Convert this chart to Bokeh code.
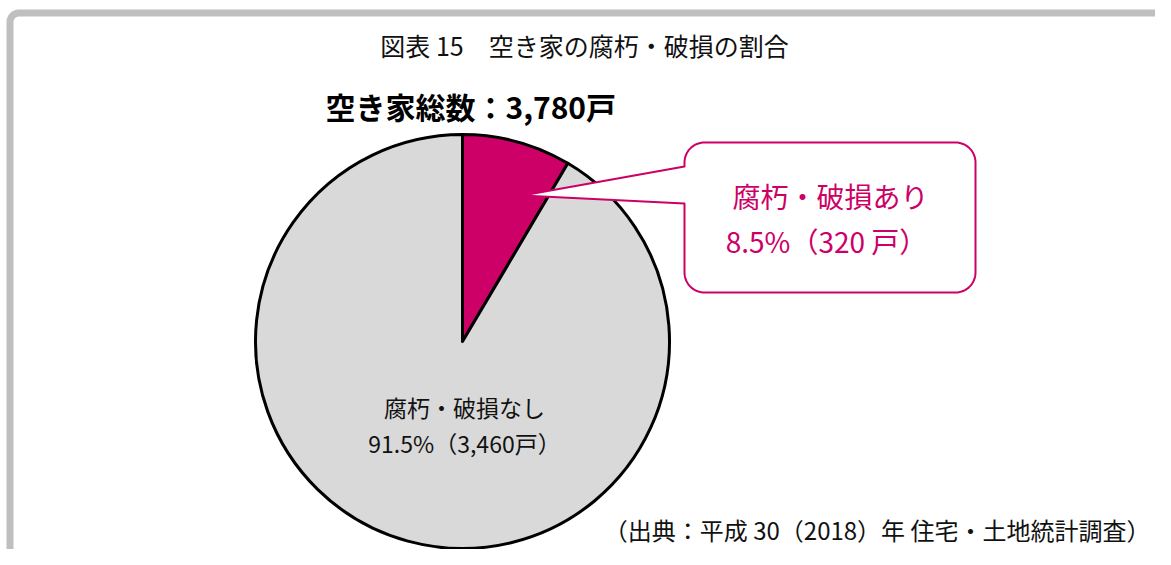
import numpy as np
from bokeh.plotting import figure
from bokeh.models import Range1d, ColumnDataSource
from bokeh.core.properties import value
from bokeh.embed import file_html
from bokeh.resources import INLINE

# ---------------- data ----------------
categories = ["腐朽・破損あり", "腐朽・破損なし"]
counts = [320, 3460]
percents = [8.5, 91.5]
colors = ["#CC0066", "#D9D9D9"]
title_text = "図表 15　空き家の腐朽・破損の割合"
source_text = "（出典：平成 30（2018）年 住宅・土地統計調査）"

FONT = value("Noto Sans CJK JP")
W, H = 1155, 549

def Y(y_page):
    return H - np.asarray(y_page, dtype=float)

p = figure(width=W, height=H, output_backend="svg", toolbar_location=None,
           x_range=Range1d(0, W), y_range=Range1d(0, H),
           x_axis_type=None, y_axis_type=None, min_border=0)
p.outline_line_color = None
p.grid.visible = False
p.background_fill_color = "white"

# ---------------- outer frame ----------------
def arc(cx, cy, r, a0, a1, n=16):
    a = np.radians(np.linspace(a0, a1, n))
    return cx + r * np.cos(a), cy + r * np.sin(a)

fx0, fy0, fr = 9.5, 12.5, 9.0
ax_, ay_ = arc(fx0 + fr, fy0 + fr, fr, 180, 270)
frame_x = np.concatenate([[fx0], ax_, [1300]])
frame_y = np.concatenate([[700], ay_, [fy0]])
p.line(frame_x, Y(frame_y), line_color="#BFBFBF", line_width=7, line_join="round")

# ---------------- pie ----------------
cx, cy, R = 462.0, 341.0, 207.0
frac = np.array(percents) / sum(percents)
cum = np.concatenate([[0], np.cumsum(frac)])
starts = np.pi / 2 - 2 * np.pi * cum[:-1]
ends = np.pi / 2 - 2 * np.pi * cum[1:]
src = ColumnDataSource(dict(start=starts, end=ends, color=colors, cat=categories))
p.wedge(x=cx, y=float(Y(cy)), radius=R, start_angle="start", end_angle="end",
        direction="clock", fill_color="color", line_color="black", line_width=3,
        line_join="round", source=src)

# ---------------- callout ----------------
bx0, by0, bx1, by1, br = 684.0, 142.0, 975.0, 292.0, 20.0
ptop, pbot = 166.0, 203.0
tip = (522.0, 195.0)
px, py = [bx0], [ptop]
for (ccx, ccy, a0, a1) in [(bx0 + br, by0 + br, 180, 270), (bx1 - br, by0 + br, 270, 360),
                           (bx1 - br, by1 - br, 0, 90), (bx0 + br, by1 - br, 90, 180)]:
    xs, ys = arc(ccx, ccy, br, a0, a1)
    px += list(xs); py += list(ys)
px += [bx0, tip[0], bx0]
py += [pbot, tip[1], ptop]
p.patch(px, Y(py), fill_color="white", line_color="#CC0066", line_width=2, line_join="round")

# ---------------- texts ----------------
def txt(x, y, s, size, color="black", align="center", style="normal"):
    p.text(x=[x], y=[float(Y(y))], text=[s], text_font=FONT, text_font_size=size,
           text_color=color, text_align=align, text_baseline="middle", text_font_style=style)

txt(584, 44, title_text, "25px", color="#111111")
txt(325, 105, f"空き家総数：{sum(counts):,}戸", "30px", align="left", style="bold")
txt(830, 195, categories[0], "28px", color=colors[0])
txt(826, 240, f"{percents[0]}%（{counts[0]} 戸）", "28px", color=colors[0])
txt(464, 406, categories[1], "23px", color="#111111")
txt(464, 442, f"{percents[1]}%（{counts[1]:,}戸）", "23px", color="#111111")
txt(1150, 529, source_text, "24px", align="right", color="#111111")

open("out.html", "w").write(file_html(p, INLINE))
